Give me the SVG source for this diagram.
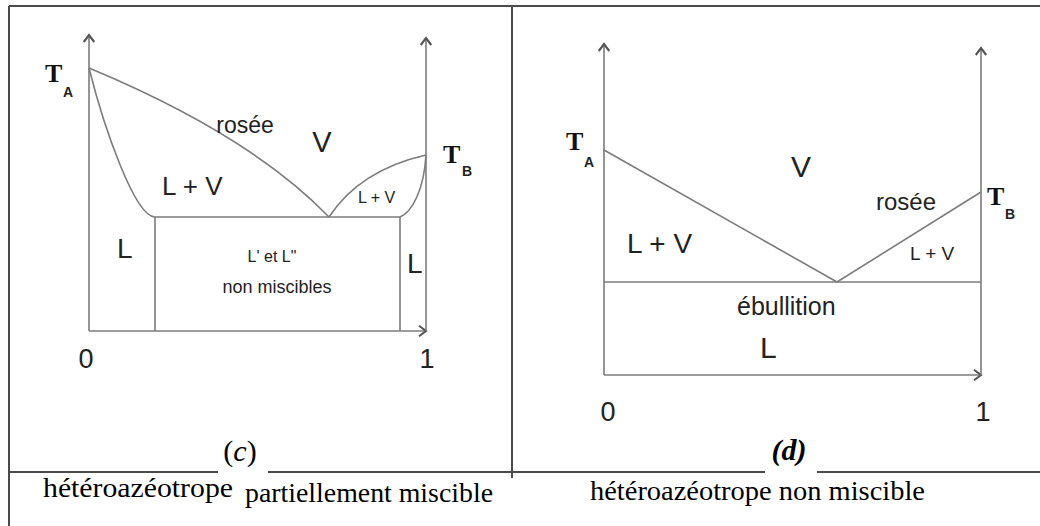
<svg xmlns="http://www.w3.org/2000/svg" width="1040" height="526" viewBox="0 0 1040 526">
<style>
.frame{stroke:#4a4a4a;stroke-width:2;fill:none}
.ln{stroke:#7c7c7c;stroke-width:1.6;fill:none}
.ax{stroke:#7c7c7c;stroke-width:1.6;fill:none;marker-end:url(#arr)}
.lab{font-family:"Liberation Sans",Arial,sans-serif;fill:#222}
.T{font-family:"Liberation Serif","Times New Roman",serif;font-weight:bold;font-size:26px;fill:#111}
.sub{font-family:"Liberation Sans",Arial,sans-serif;font-weight:bold;font-size:14px;fill:#222}
.cap{font-family:"Liberation Serif","Times New Roman",serif;font-size:27px;fill:#000}
.fig{font-family:"Liberation Serif","Times New Roman",serif;font-size:30px;fill:#000}
</style>
<defs>
<marker id="arr" markerUnits="userSpaceOnUse" markerWidth="14" markerHeight="14" viewBox="-8 -6 10 12" refX="0" refY="0" orient="auto">
<path d="M-6,-4.5 L0,0 L-6,4.5" fill="none" stroke="#555" stroke-width="1.8"/>
</marker>
</defs>
<rect width="1040" height="526" fill="#fff"/>
<g id="frame">
<path class="frame" d="M9,6 H1040 M9,6 V526 M512,6 V478 M9,472 H218 M268,472 H765 M817,472 H1040"/>
</g>
<g id="connectors">
<path class="ax" d="M89,331 V35"/>
<path class="ax" d="M89,331 H426"/>
<path class="ax" d="M426,331 V38"/>
<path class="ln" d="M89,68 Q250,135 329,217"/>
<path class="ln" d="M89,68 C104,128 135,217 155,217"/>
<path class="ln" d="M155,217 H400"/>
<path class="ln" d="M155,217 V331 M400,217 V331"/>
<path class="ln" d="M329,217 Q360,170 426,155"/>
<path class="ln" d="M400,217 C412,212 424,190 426,155"/>
<path class="ax" d="M604,375 V44"/>
<path class="ax" d="M604,375 H981"/>
<path class="ax" d="M981,375 V48"/>
<path class="ln" d="M604,150 L837,282 L981,192"/>
<path class="ln" d="M604,282 H981"/>
</g>
<g id="diagram-c">
<text class="T" x="45" y="82">T</text><text class="sub" x="63" y="97">A</text>
<text class="T" x="443" y="163">T</text><text class="sub" x="462" y="176">B</text>
<text class="lab" x="245" y="133" font-size="23" text-anchor="middle">rosée</text>
<text class="lab" x="322" y="152" font-size="29" text-anchor="middle">V</text>
<text class="lab" x="162" y="195" font-size="26">L + V</text>
<text class="lab" x="358" y="203" font-size="16">L + V</text>
<text class="lab" x="117" y="258" font-size="28">L</text>
<text class="lab" x="272" y="262" font-size="16" text-anchor="middle">L' et L"</text>
<text class="lab" x="277" y="293" font-size="18" text-anchor="middle">non miscibles</text>
<text class="lab" x="407" y="273" font-size="28">L</text>
<text class="lab" x="86" y="368" font-size="27" text-anchor="middle">0</text>
<text class="lab" x="427" y="368" font-size="27" text-anchor="middle">1</text>
<text class="fig" x="240" y="461" text-anchor="middle">(<tspan font-style="italic">c</tspan>)</text>
<text class="cap" x="43" y="497" textLength="190" lengthAdjust="spacingAndGlyphs">hétéroazéotrope</text>
<text class="cap" x="245" y="502" textLength="248" lengthAdjust="spacingAndGlyphs">partiellement miscible</text>
</g>
<g id="diagram-d">
<text class="T" x="566" y="150">T</text><text class="sub" x="584" y="167">A</text>
<text class="T" x="987" y="205">T</text><text class="sub" x="1005" y="219">B</text>
<text class="lab" x="801" y="177" font-size="30" text-anchor="middle">V</text>
<text class="lab" x="906" y="210" font-size="24" text-anchor="middle">rosée</text>
<text class="lab" x="627" y="253" font-size="28">L + V</text>
<text class="lab" x="910" y="260" font-size="19">L + V</text>
<text class="lab" x="737" y="315" font-size="25">ébullition</text>
<text class="lab" x="760" y="358" font-size="30">L</text>
<text class="lab" x="608" y="421" font-size="27" text-anchor="middle">0</text>
<text class="lab" x="983" y="421" font-size="27" text-anchor="middle">1</text>
<text class="fig" x="789" y="460" text-anchor="middle" font-weight="bold" font-style="italic">(d)</text>
<text class="cap" x="590" y="500" textLength="335" lengthAdjust="spacingAndGlyphs">hétéroazéotrope non miscible</text>
</g>
</svg>
